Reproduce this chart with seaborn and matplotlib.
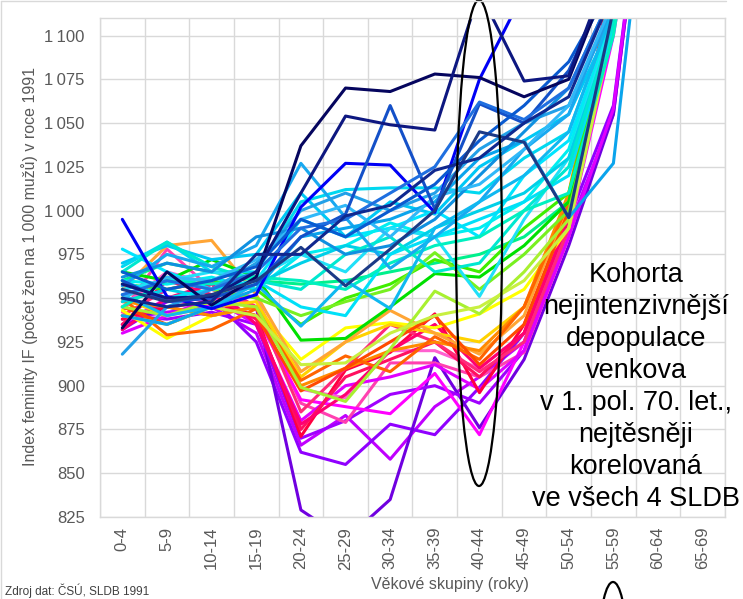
import numpy as np
import pandas as pd
import matplotlib
matplotlib.use("Agg")
import matplotlib.pyplot as plt
from matplotlib.patches import Ellipse
from matplotlib.lines import Line2D
import seaborn as sns

# vekove skupiny (60-64 jen mimo graf, 65-69 bez dat)
age_groups = ["0-4", "5-9", "10-14", "15-19", "20-24", "25-29", "30-34",
              "35-39", "40-44", "45-49", "50-54", "55-59", "60-64", "65-69"]

# index feminity 1991, jeden radek = jeden okres (odhad z grafu)
purple_lines = [
    [938, 942, 945, 930, 866, 883, 858, 888, 905, 925, 990, 1055, 1260],
    [932, 948, 950, 925, 862, 855, 878, 872, 899, 930, 995, 1060, 1260],
    [935, 945, 940, 945, 829, 812, 835, 916, 876, 915, 980, 1055, 1260],
    [940, 938, 942, 935, 870, 880, 895, 900, 890, 920, 990, 1120, 1260],
]
purple_colors = ["#c000ff", "#9000ff", "#7000e0", "#a000ff"]

magenta_lines = [
    [942, 978, 955, 945, 890, 879, 913, 913, 905, 919, 985, 1120, 1260],
    [935, 950, 945, 940, 892, 888, 884, 907, 872, 925, 990, 1100, 1260],
    [930, 940, 950, 935, 880, 900, 905, 912, 898, 920, 985, 1058, 1260],
    [945, 965, 958, 950, 898, 893, 920, 920, 910, 930, 995, 1125, 1260],
]
magenta_colors = ["#ff40b0", "#ff00ff", "#e000ff", "#ff60d0"]

red_lines = [
    [938, 945, 948, 940, 871, 909, 919, 941, 896, 935, 1000, 1140, 1260],
    [935, 960, 952, 938, 875, 905, 915, 925, 905, 930, 995, 1135, 1260],
    [940, 955, 960, 945, 885, 910, 935, 925, 908, 925, 990, 1130, 1260],
    [932, 950, 958, 935, 878, 895, 920, 935, 910, 930, 995, 1140, 1260],
]
red_colors = ["#ff0040", "#ff1060", "#ff2a7a", "#ff0070"]

yellow_lines = [
    [943, 927, 940, 945, 915, 933, 936, 933, 941, 955, 990, 1110, 1260],
    [950, 940, 945, 948, 905, 925, 935, 930, 925, 945, 1000, 1120, 1260],
    [955, 980, 983, 952, 908, 925, 943, 930, 918, 940, 1005, 1125, 1260],
    [948, 945, 940, 945, 900, 910, 920, 925, 920, 945, 1010, 1130, 1260],
    [950, 929, 932, 944, 903, 917, 908, 928, 915, 945, 1005, 1135, 1260],
    [945, 935, 945, 940, 897, 910, 925, 940, 912, 935, 1000, 1130, 1260],
]
yellow_colors = ["#ffff00", "#ffd200", "#ffa535", "#ff8a00", "#ff6400", "#ff4a00"]

green_lines = [
    [960, 970, 965, 960, 958, 960, 965, 970, 975, 985, 1005, 1105, 1260],
    [965, 960, 972, 962, 926, 927, 945, 964, 962, 980, 1005, 1110, 1260],
    [958, 955, 960, 955, 935, 950, 958, 972, 965, 990, 1010, 1110, 1260],
    [950, 962, 955, 950, 940, 948, 955, 976, 955, 975, 1000, 1105, 1260],
    [945, 940, 948, 945, 899, 891, 921, 954, 941, 965, 995, 1110, 1260],
    [940, 935, 945, 940, 912, 913, 930, 940, 945, 960, 990, 1105, 1260],
]
green_colors = ["#00f08c", "#00e000", "#40ee00", "#78f020", "#a8f030", "#c8f040"]

cyan_lines = [
    [970, 980, 972, 975, 1010, 985, 1005, 998, 1025, 1040, 1055, 1110, 1260],
    [968, 982, 965, 965, 1005, 1012, 1013, 1013, 1010, 1030, 1045, 1115, 1260],
    [978, 965, 955, 960, 995, 985, 990, 1000, 985, 1020, 1040, 1110, 1260],
    [960, 958, 962, 955, 975, 980, 993, 985, 990, 1005, 1035, 1112, 1260],
    [955, 960, 965, 962, 975, 965, 990, 985, 951, 995, 1030, 1110, 1260],
    [948, 955, 950, 958, 970, 980, 975, 990, 1000, 1010, 1030, 1105, 1260],
    [960, 950, 955, 960, 945, 940, 975, 985, 995, 1005, 1020, 1105, 1260],
    [965, 982, 968, 960, 955, 975, 985, 965, 970, 1000, 1025, 1108, 1260],
    [945, 960, 958, 962, 960, 955, 970, 980, 985, 1000, 1010, 1100, 1260],
]
cyan_colors = ["#00c8f5", "#00d8f0", "#00e5ff", "#00eef0", "#20e0f8",
               "#00d0e8", "#00e0f8", "#00e8d0", "#00f0c0"]

sky_lines = [
    [957, 975, 968, 980, 1027, 996, 967, 985, 1005, 1035, 1055, 1120, 1260],
    [940, 935, 945, 955, 985, 990, 995, 1005, 1030, 1040, 996, 1027, 1250],
    [918, 945, 955, 970, 1000, 1010, 1000, 1010, 1035, 1050, 1060, 1115, 1260],
    [962, 970, 965, 985, 990, 975, 980, 995, 1020, 1045, 1070, 1125, 1260],
    [952, 940, 945, 958, 934, 960, 944, 990, 1005, 1020, 1045, 1115, 1260],
    [950, 962, 960, 972, 995, 1003, 985, 1008, 1015, 1035, 1060, 1120, 1260],
]
sky_colors = ["#18a8f0", "#0aa4ec", "#22a0e8", "#1090e0", "#10b8f0", "#30b8f8"]

blue_lines = [
    [995, 951, 944, 952, 1002, 1027, 1026, 999, 1075, 1125, 1135, 1160, 1260],
    [960, 948, 950, 958, 985, 998, 1060, 1001, 1061, 1050, 1080, 1135, 1260],
    [952, 960, 955, 965, 990, 995, 1010, 1025, 1062, 1052, 1070, 1125, 1260],
    [965, 955, 960, 968, 995, 985, 1000, 1015, 1040, 1060, 1085, 1130, 1260],
]
blue_colors = ["#0000f5", "#1450c8", "#1f6fe0", "#0a5ad0"]

navy_lines = [
    [933, 965, 946, 962, 1037, 1070, 1068, 1078, 1076, 1065, 1075, 1140, 1260],
    [958, 950, 951, 965, 1010, 1054, 1049, 1046, 1125, 1074, 1077, 1145, 1260],
    [955, 948, 952, 960, 979, 957, 978, 1000, 1045, 1039, 996, 1115, 1260],
    [950, 945, 948, 975, 975, 997, 1003, 1023, 1030, 1050, 1065, 1125, 1260],
]
navy_colors = ["#05055e", "#0d1780", "#1c3a86", "#10288f"]

groups = [
    (purple_lines, purple_colors), (magenta_lines, magenta_colors),
    (red_lines, red_colors), (yellow_lines, yellow_colors),
    (green_lines, green_colors), (cyan_lines, cyan_colors),
    (sky_lines, sky_colors), (blue_lines, blue_colors),
    (navy_lines, navy_colors),
]

rows = []
okresy = []
colors = []
for lines, cols in groups:
    for vals, c in zip(lines, cols):
        key = f"okres_{len(okresy):02d}"
        okresy.append(key)
        colors.append(c)
        for i, v in enumerate(vals):
            rows.append({"okres": key, "vek": i, "IF": v})
df = pd.DataFrame(rows)

sns.set_style("white")
plt.rcParams["font.family"] = ["Liberation Sans", "DejaVu Sans"]

W, H = 743, 599
grey = "#595959"
gridc = "#d9d9d9"

fig = plt.figure(figsize=(W / 100, H / 100), dpi=100)
ax = fig.add_axes([100 / W, 1 - 517 / H, 625 / W, 499 / H])

sns.lineplot(data=df, x="vek", y="IF", hue="okres", hue_order=okresy,
             palette=colors, legend=False, linewidth=2.2, sort=False,
             estimator=None, ax=ax)

ax.set_xlim(-0.5, len(age_groups) - 0.5)
ax.set_ylim(825, 1110)
ax.set_xticks(range(len(age_groups)))
ax.set_xticklabels(age_groups, rotation=90)
ax.set_xticks(np.arange(-0.5, len(age_groups), 1), minor=True)
yt = np.arange(825, 1101, 25)
ax.set_yticks(yt)
ax.set_yticklabels([f"{v:,}".replace(",", "\u2009") for v in yt])
ax.grid(which="minor", axis="x", color=gridc, lw=1)
ax.grid(which="major", axis="y", color=gridc, lw=1)
ax.grid(which="major", axis="x", visible=False)
ax.tick_params(which="both", length=0, colors=grey, labelsize=12)
ax.tick_params(axis="y", pad=11)
ax.tick_params(axis="x", pad=7)
ax.set_xlabel("")
ax.set_ylabel("")
for s in ax.spines.values():
    s.set_color(gridc)
    s.set_linewidth(1)

fig.text(29.5 / W, 1 - 267 / H,
         "Index feminity IF (počet žen na 1\u2009000 mužů) v roce 1991",
         rotation=90, ha="center", va="center", fontsize=11.5, color=grey)
fig.text(450 / W, 1 - 585 / H, "Věkové skupiny (roky)",
         ha="center", va="center", fontsize=11.5, color=grey)

note = ("Kohorta\nnejintenzivnější\ndepopulace\nvenkova\n"
        "v 1. pol. 70. let.,\nnejtěsněji\nkorelovaná\nve všech 4 SLDB")
fig.text(636 / W, 1 - 262 / H, note, ha="center", va="top",
         fontsize=19.5, linespacing=1.3, color="black")

fig.text(5 / W, 1 - 598 / H, "Zdroj dat: ČSÚ, SLDB 1991",
         ha="left", va="bottom", fontsize=8.5, color="#404040")

# elipsy kolem kohorty 40-44 a u 55-59
fig.add_artist(Ellipse((479 / W, 1 - 243 / H), 46 / W, 486 / H,
                       transform=fig.transFigure, fill=False,
                       edgecolor="black", lw=1.6))
fig.add_artist(Ellipse((613 / W, 1 - 640 / H), 26 / W, 116 / H,
                       transform=fig.transFigure, fill=False,
                       edgecolor="black", lw=1.6))

# ramecek grafu
fig.add_artist(Line2D([1 / W, 1 / W], [0, 1 - 1 / H],
                      transform=fig.transFigure, color=gridc, lw=1))
fig.add_artist(Line2D([1 / W, 726 / W], [1 - 1 / H, 1 - 1 / H],
                      transform=fig.transFigure, color=gridc, lw=1))

fig.savefig("out.png", dpi=100)
